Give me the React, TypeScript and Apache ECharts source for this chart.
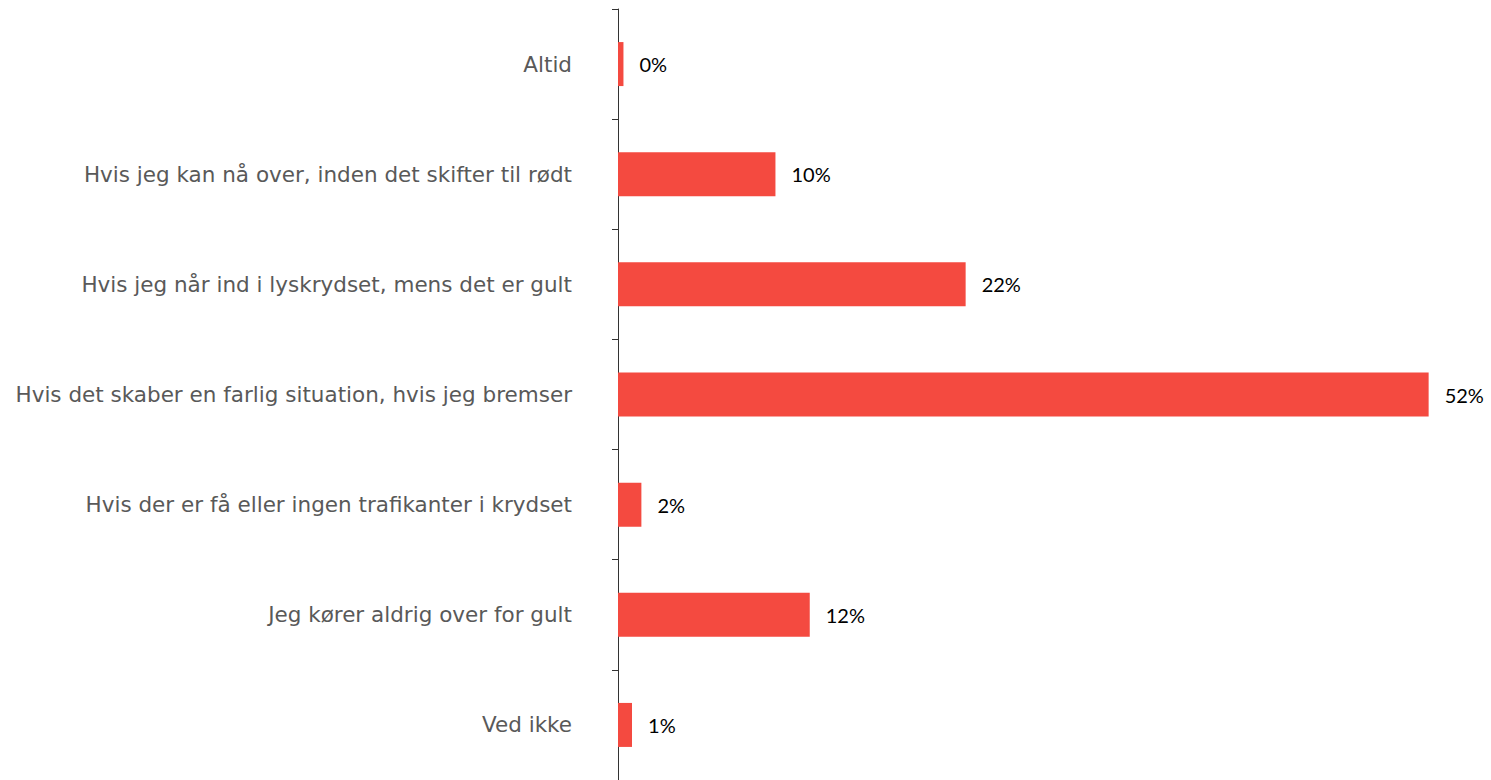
import React, { useEffect, useRef } from "react";
import * as echarts from "echarts";

const categories = [
  "Altid",
  "Hvis jeg kan nå over, inden det skifter til rødt",
  "Hvis jeg når ind i lyskrydset, mens det er gult",
  "Hvis det skaber en farlig situation, hvis jeg bremser",
  "Hvis der er få eller ingen trafikanter i krydset",
  "Jeg kører aldrig over for gult",
  "Ved ikke",
];

const values = [0.35, 10.1, 22.3, 52.0, 1.5, 12.3, 0.9];

export default function App() {
  const ref = useRef<HTMLDivElement>(null);
  useEffect(() => {
    if (!ref.current) return;
    const chart = echarts.init(ref.current, undefined, { renderer: "svg" });
    chart.setOption({
      animation: false,
      grid: { left: 618, top: 9, width: 875, height: 772, containLabel: false },
      xAxis: {
        type: "value",
        min: 0,
        max: 56,
        show: false,
      },
      yAxis: {
        type: "category",
        data: categories,
        inverse: true,
        axisLine: { show: true, lineStyle: { color: "#333333", width: 1 } },
        axisTick: { show: true, length: 6, lineStyle: { color: "#333333" } },
        axisLabel: {
          margin: 46,
          color: "#595959",
          fontSize: 21.5,
          fontFamily: "'DejaVu Sans', sans-serif",
          padding: [3, 0, 0, 0],
        },
        splitLine: { show: false },
      },
      series: [
        {
          type: "bar",
          data: values,
          barWidth: 44,
          itemStyle: { color: "#F44A40" },
          label: {
            show: true,
            position: "right",
            distance: 16,
            color: "#000000",
            fontSize: 20,
            fontFamily: "Lato, sans-serif",
            formatter: (p: any) => `${Math.round(p.value)}%`,
          },
        },
      ],
    });
    return () => chart.dispose();
  }, []);
  return (
    <div
      ref={ref}
      style={{ position: "fixed", left: 0, top: 0, width: 1491, height: 780, background: "#fff" }}
    />
  );
}
